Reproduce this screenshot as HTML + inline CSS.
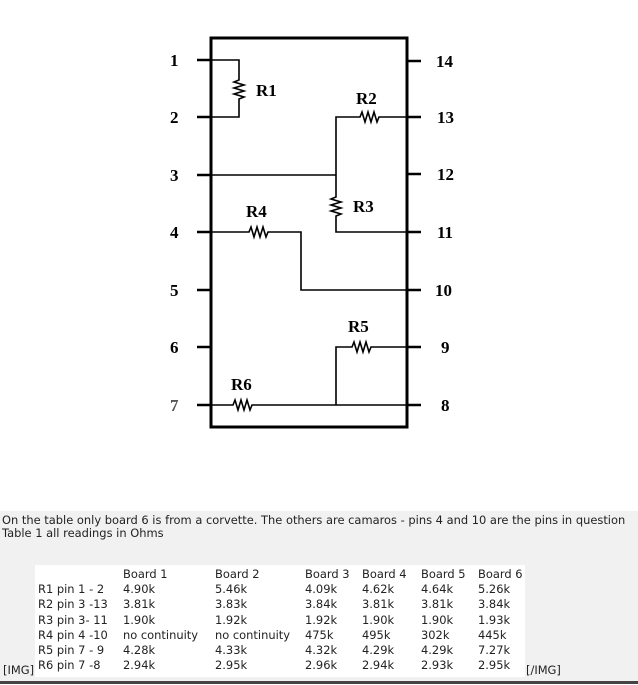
<!DOCTYPE html>
<html><head><style>
html,body{margin:0;padding:0;width:638px;height:685px;background:#fff;overflow:hidden;position:relative;font-family:"DejaVu Sans","Liberation Sans",sans-serif;}
.gray{position:absolute;left:0;top:511px;width:638px;height:171px;background:#f1f1f1;}
.line{position:absolute;left:0;top:681px;width:638px;height:3px;background:#444;}
.t{position:absolute;font-size:11.45px;color:#222;white-space:nowrap;line-height:13px;}
.tbl{position:absolute;left:35px;top:565px;width:490px;height:112px;background:#fff;}
</style></head><body>
<svg width="638" height="511" style="position:absolute;left:0;top:0" font-family="Liberation Serif, serif" font-weight="bold" font-size="17">
<g stroke="#000" fill="none">
<rect x="211" y="38" width="196" height="389" stroke-width="3"/>
<g stroke-width="2.5">
<line x1="197" y1="60" x2="211" y2="60"/><line x1="197" y1="117" x2="211" y2="117"/>
<line x1="197" y1="175" x2="211" y2="175"/><line x1="197" y1="232" x2="211" y2="232"/>
<line x1="197" y1="290" x2="211" y2="290"/><line x1="197" y1="347" x2="211" y2="347"/>
<line x1="197" y1="405" x2="211" y2="405"/>
<line x1="407" y1="61" x2="421" y2="61"/><line x1="407" y1="117" x2="421" y2="117"/>
<line x1="407" y1="174" x2="421" y2="174"/><line x1="407" y1="232" x2="421" y2="232"/>
<line x1="407" y1="290" x2="421" y2="290"/><line x1="407" y1="347" x2="421" y2="347"/>
<line x1="407" y1="405" x2="421" y2="405"/>
</g>
<g stroke-width="1.6">
<polyline points="211,60 239,60 239,80 234,82 244,85 234,88 244,91 234,94 244,97 239,99 239,117 211,117"/>
<polyline points="336,175 336,117 360,117 362,112 365,122 368,112 371,122 374,112 377,122 379,117 407,117"/>
<line x1="211" y1="175" x2="336" y2="175"/>
<polyline points="336,175 336,197 331,199 341,202 331,205 341,208 331,211 341,214 336,216 336,232 407,232"/>
<polyline points="211,232 249,232 251,227 254,237 257,227 260,237 263,227 266,237 268,232 301,232 301,290 407,290"/>
<polyline points="336,405 336,347 352,347 354,342 357,352 360,342 363,352 366,342 369,352 371,347 407,347"/>
<polyline points="211,405 233,405 235,400 238,410 241,400 244,410 247,400 250,410 252,405 407,405"/>
</g>
</g>
<g fill="#000">
<text x="170" y="66">1</text><text x="170" y="123">2</text><text x="170" y="181">3</text>
<text x="170" y="238">4</text><text x="170" y="296">5</text><text x="170" y="353">6</text>
<text x="170" y="411" fill="#555">7</text>
<text x="436" y="67">14</text><text x="437" y="123">13</text><text x="437" y="180">12</text>
<text x="437" y="238">11</text><text x="435" y="296">10</text><text x="441" y="353">9</text>
<text x="441" y="411">8</text>
<text x="256" y="96">R1</text><text x="356" y="104">R2</text><text x="353" y="212">R3</text>
<text x="246" y="217">R4</text><text x="348" y="332">R5</text><text x="231" y="390">R6</text>
</g>
</svg>
<div class="gray"></div>
<div class="line"></div>
<div class="tbl"></div>
<div class="t" style="left:2px;top:514px">On the table only board 6 is from a corvette. The others are camaros - pins 4 and 10 are the pins in question</div>
<div class="t" style="left:2px;top:527px">Table 1 all readings in Ohms</div>
<div class="t" style="left:3px;top:664px">[IMG]</div>
<div class="t" style="left:526px;top:664px">[/IMG]</div>
<div class="t" style="left:38px;top:567px;line-height:15.2px">&nbsp;<br>R1 pin 1 - 2<br>R2 pin 3 -13<br>R3 pin 3- 11<br>R4 pin 4 -10<br>R5 pin 7 - 9<br>R6 pin 7 -8</div>
<div class="t" style="left:123px;top:567px;line-height:15.2px">Board 1<br>4.90k<br>3.81k<br>1.90k<br>no continuity<br>4.28k<br>2.94k</div>
<div class="t" style="left:215px;top:567px;line-height:15.2px">Board 2<br>5.46k<br>3.83k<br>1.92k<br>no continuity<br>4.33k<br>2.95k</div>
<div class="t" style="left:305px;top:567px;line-height:15.2px">Board 3<br>4.09k<br>3.84k<br>1.92k<br>475k<br>4.32k<br>2.96k</div>
<div class="t" style="left:362px;top:567px;line-height:15.2px">Board 4<br>4.62k<br>3.81k<br>1.90k<br>495k<br>4.29k<br>2.94k</div>
<div class="t" style="left:421px;top:567px;line-height:15.2px">Board 5<br>4.64k<br>3.81k<br>1.90k<br>302k<br>4.29k<br>2.93k</div>
<div class="t" style="left:478px;top:567px;line-height:15.2px">Board 6<br>5.26k<br>3.84k<br>1.93k<br>445k<br>7.27k<br>2.95k</div>
</body></html>
